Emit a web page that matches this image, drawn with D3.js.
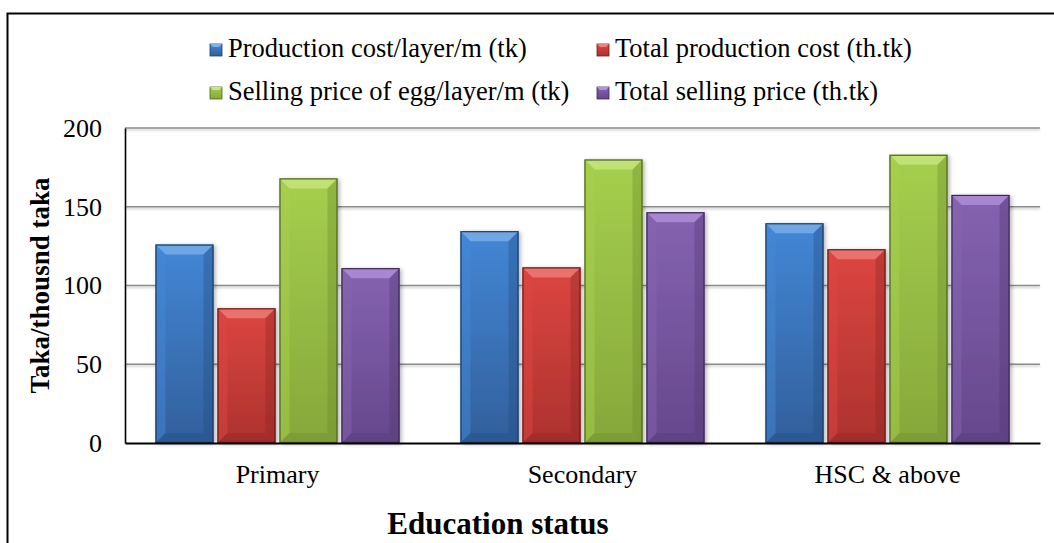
<!DOCTYPE html>
<html>
<head>
<meta charset="utf-8">
<script src="https://cdn.jsdelivr.net/npm/d3@7"></script>
<style>
  html, body { margin: 0; padding: 0; background: #fff; }
  svg { display: block; }
  text { font-family: "Liberation Serif", "Times New Roman", serif; fill: #000; }
</style>
</head>
<body>
<svg id="chart" width="1054" height="543"></svg>
<script>
// ---- data ----
const categories = ["Primary", "Secondary", "HSC & above"];
const seriesNames = [
  "Production cost/layer/m (tk)",
  "Total production cost (th.tk)",
  "Selling price of egg/layer/m (tk)",
  "Total selling price (th.tk)"
];
const productionCostPerLayer = [126, 134.5, 139.5];
const totalProductionCost = [85.5, 111.5, 123];
const sellingPricePerLayer = [168, 180, 183];
const totalSellingPrice = [111, 146.5, 157.5];
const yTicks = [0, 50, 100, 150, 200];
const yTitle = "Taka/thousnd taka";
const xTitle = "Education status";

const seriesValues = [productionCostPerLayer, totalProductionCost, sellingPricePerLayer, totalSellingPrice];
const palette = [
  { top: "#4387d6", bottom: "#325f9b", light: "#7fb2ea", dark: "#234a7c", edge: "#1d3f6b" },
  { top: "#dc4641", bottom: "#ad322e", light: "#f0807b", dark: "#8a2522", edge: "#6e1c1a" },
  { top: "#a6cf4e", bottom: "#86a73a", light: "#c9e882", dark: "#6b862c", edge: "#4f6620" },
  { top: "#8563b0", bottom: "#65488c", light: "#b393dd", dark: "#4f3770", edge: "#3c2957" }
];

const svg = d3.select("#chart");
const defs = svg.append("defs");

// outer frame
svg.append("rect")
  .attr("x", 7.5).attr("y", 13.5).attr("width", 1060).attr("height", 560)
  .attr("fill", "none").attr("stroke", "#000").attr("stroke-width", 2);

const plot = { left: 125, right: 1040, top: 128, bottom: 443 };

const y = d3.scaleLinear().domain([0, 200]).range([plot.bottom, plot.top]);
const x0 = d3.scaleBand().domain(categories).range([plot.left, plot.right])
  .paddingInner(0.2).paddingOuter(0.1);
const x1 = d3.scaleBand().domain(d3.range(seriesNames.length)).range([0, x0.bandwidth()])
  .paddingInner(0.0645).paddingOuter(0);

// gradients
palette.forEach((c, i) => {
  const g = defs.append("linearGradient").attr("id", "grad" + i)
    .attr("x1", 0).attr("y1", 0).attr("x2", 0).attr("y2", 1);
  g.append("stop").attr("offset", "0%").attr("stop-color", c.top);
  g.append("stop").attr("offset", "100%").attr("stop-color", c.bottom);
});
const shadow = defs.append("filter").attr("id", "shadow")
  .attr("x", "-20%").attr("y", "-20%").attr("width", "140%").attr("height", "140%");
shadow.append("feDropShadow").attr("dx", 2).attr("dy", 1).attr("stdDeviation", 2)
  .attr("flood-color", "#000").attr("flood-opacity", 0.3);
const gshadow = defs.append("filter").attr("id", "gshadow")
  .attr("x", "-5%").attr("y", "-200%").attr("width", "110%").attr("height", "500%");
gshadow.append("feDropShadow").attr("dx", 0).attr("dy", 1.5).attr("stdDeviation", 1)
  .attr("flood-color", "#000").attr("flood-opacity", 0.25);

// gridlines
const grid = svg.append("g").attr("filter", "url(#gshadow)");
grid.selectAll("line").data(yTicks.filter(d => d > 0)).join("line")
  .attr("x1", plot.left).attr("x2", plot.right)
  .attr("y1", d => y(d)).attr("y2", d => y(d))
  .attr("stroke", "#8c8c8c").attr("stroke-width", 1.6);

// y axis
const yAxis = svg.append("g").attr("transform", `translate(${plot.left},0)`)
  .call(d3.axisLeft(y).tickValues(yTicks).tickSize(0).tickPadding(23));
yAxis.select(".domain").attr("stroke", "#000").attr("stroke-width", 1.6);
yAxis.selectAll("text").style("font-family", "'Liberation Serif', serif")
  .style("font-size", "26px").attr("fill", "#000");

// bars
const bev = 10;
categories.forEach((cat, ci) => {
  seriesValues.forEach((vals, si) => {
    const c = palette[si];
    const bx = x0(cat) + x1(si);
    const bw = x1.bandwidth();
    const by = y(vals[ci]);
    const bh = y(0) - by;
    const g = svg.append("g");
    g.append("rect").attr("x", bx).attr("y", by).attr("width", bw).attr("height", bh)
      .attr("fill", "url(#grad" + si + ")").attr("filter", "url(#shadow)");
    // bevels
    const b = Math.min(bev, bh / 2);
    g.append("polygon").attr("points", [[bx, by], [bx + bw, by], [bx + bw - b, by + b], [bx + b, by + b]].join(" "))
      .attr("fill", c.light).attr("opacity", 0.75);
    g.append("polygon").attr("points", [[bx, by], [bx + b, by + b], [bx + b, by + bh - b], [bx, by + bh]].join(" "))
      .attr("fill", c.top).attr("opacity", 0.5);
    g.append("polygon").attr("points", [[bx + bw, by], [bx + bw - b, by + b], [bx + bw - b, by + bh - b], [bx + bw, by + bh]].join(" "))
      .attr("fill", c.dark).attr("opacity", 0.35);
    g.append("polygon").attr("points", [[bx, by + bh], [bx + b, by + bh - b], [bx + bw - b, by + bh - b], [bx + bw, by + bh]].join(" "))
      .attr("fill", c.dark).attr("opacity", 0.3);
    g.append("rect").attr("x", bx + 0.5).attr("y", by + 0.5).attr("width", bw - 1).attr("height", bh - 1)
      .attr("fill", "none").attr("stroke", c.edge).attr("stroke-width", 1.2);
  });
});

// x axis
const xAxis = svg.append("g").attr("transform", `translate(0,${plot.bottom})`)
  .call(d3.axisBottom(x0).tickSize(0).tickPadding(22));
xAxis.select(".domain").attr("stroke", "#000").attr("stroke-width", 1.8);
xAxis.selectAll("text").style("font-family", "'Liberation Serif', serif")
  .style("font-size", "26px").attr("fill", "#000");

// axis titles
svg.append("text")
  .attr("transform", `translate(49,${(plot.top + plot.bottom) / 2}) rotate(-90)`)
  .attr("text-anchor", "middle").style("font-size", "27px").style("font-weight", "bold")
  .text(yTitle);
svg.append("text")
  .attr("x", 498).attr("y", 534)
  .attr("text-anchor", "middle").style("font-size", "31px").style("font-weight", "bold")
  .text(xTitle);

// legend
const legendPos = [[210, 57], [597, 57], [210, 100], [597, 100]];
seriesNames.forEach((name, i) => {
  const [lx, ly] = legendPos[i];
  const c = palette[i];
  const g = svg.append("g");
  g.append("rect").attr("x", lx).attr("y", ly - 13).attr("width", 12).attr("height", 12)
    .attr("fill", "url(#grad" + i + ")").attr("stroke", c.edge).attr("stroke-width", 0.8);
  g.append("polygon").attr("points", [[lx, ly - 13], [lx + 12, ly - 13], [lx + 9, ly - 10], [lx + 3, ly - 10]].join(" "))
    .attr("fill", c.light);
  g.append("text").attr("x", lx + 18).attr("y", ly)
    .style("font-size", "26.5px").text(name);
});
</script>
</body>
</html>
